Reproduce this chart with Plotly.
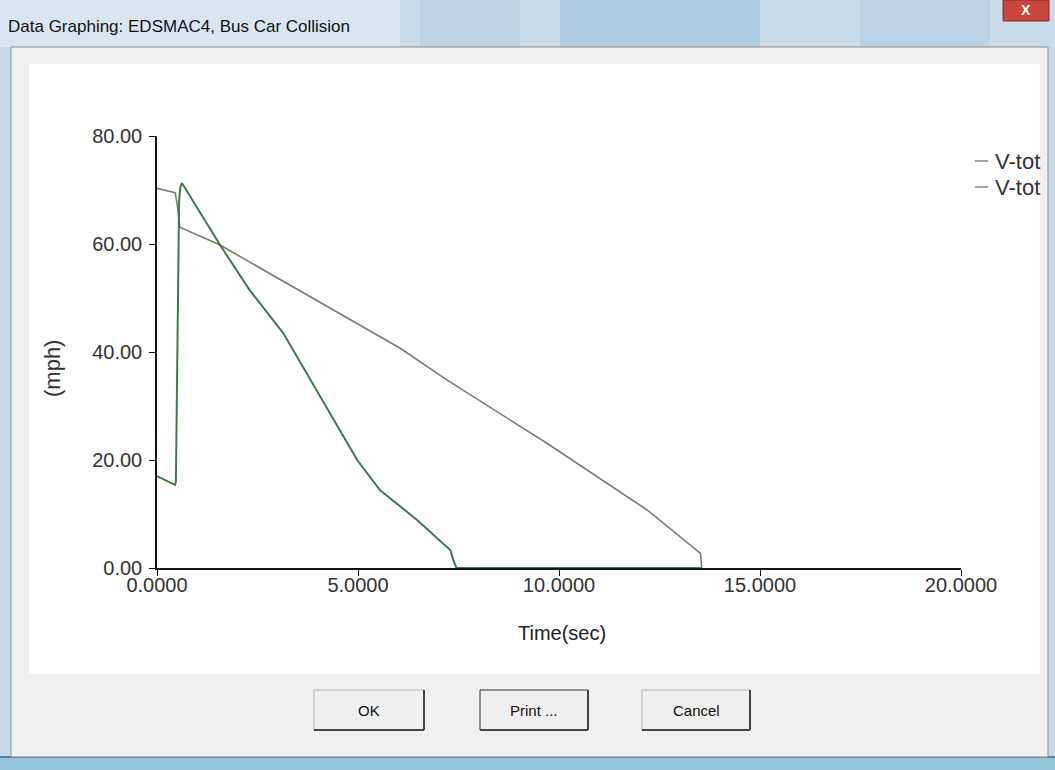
import plotly.graph_objects as go

# ---------------- data ----------------
series_names = ["V-tot", "V-tot"]

time_gray = [0.0, 0.45, 0.50, 0.55, 0.57, 1.57, 5.55, 6.05, 7.22, 9.70, 12.20, 13.52, 13.55]
vtot_gray = [70.3, 69.5, 67.5, 63.5, 63.1, 59.8, 42.8, 40.7, 34.8, 23.1, 10.7, 2.7, 0.0]

time_green = [0.0, 0.45, 0.47, 0.50, 0.55, 0.58, 0.62, 1.57, 2.30, 3.14, 3.64, 4.40, 4.98,
              5.55, 6.47, 7.30, 7.37, 7.45, 13.55]
vtot_green = [17.0, 15.4, 16.0, 40.0, 68.0, 70.5, 71.3, 59.8, 51.5, 43.5, 37.2, 27.4, 20.0,
              14.4, 8.9, 3.3, 1.5, 0.0, 0.0]

x_ticks = [0, 5, 10, 15, 20]
x_ticklabels = ["0.0000", "5.0000", "10.0000", "15.0000", "20.0000"]
y_ticks = [0, 20, 40, 60, 80]
y_ticklabels = ["0.00", "20.00", "40.00", "60.00", "80.00"]

window_title = "Data Graphing: EDSMAC4, Bus Car Collision"
button_labels = ["OK", "Print ...", "Cancel"]

# ---------------- layout geometry ----------------
W, H = 1055, 770
L, R, T, B = 157, 94, 136, 202
PW, PH = W - L - R, H - T - B


def fx(px):
    return (px - L) / PW


def fy(py):
    return (H - B - py) / PH


SANS = "Liberation Sans, Arial, sans-serif"

shapes = []
annotations = []


def rect(x0, y0, x1, y1, fill, line=None, lw=0):
    shapes.append(dict(type="rect", xref="paper", yref="paper", layer="below",
                       x0=fx(x0), x1=fx(x1), y0=fy(y1), y1=fy(y0),
                       fillcolor=fill,
                       line=dict(color=line or fill, width=lw)))


def hline(x0, x1, y, color, lw=1, layer="below"):
    shapes.append(dict(type="line", xref="paper", yref="paper", layer=layer,
                       x0=fx(x0), x1=fx(x1), y0=fy(y), y1=fy(y),
                       line=dict(color=color, width=lw)))


def vline(x, y0, y1, color, lw=1, layer="below"):
    shapes.append(dict(type="line", xref="paper", yref="paper", layer=layer,
                       x0=fx(x), x1=fx(x), y0=fy(y0), y1=fy(y1),
                       line=dict(color=color, width=lw)))


def text(x, y, s, size, color="#111", family=SANS, xanchor="center", textangle=0):
    annotations.append(dict(xref="paper", yref="paper", x=fx(x), y=fy(y), text=s,
                            showarrow=False, xanchor=xanchor, yanchor="middle",
                            textangle=textangle, borderpad=0,
                            font=dict(size=size, color=color, family=family)))


# window chrome: glass title bar & borders
rect(0, 0, W, 47, "#c9dcec")
rect(0, 0, 400, 47, "#d9e6f1")
rect(420, 0, 520, 47, "#bcd3e6")
rect(560, 0, 760, 47, "#b2cce2")
rect(860, 0, 990, 47, "#bad2e6")
rect(0, 47, 11, H, "#c6d9e9")
rect(1048, 47, W, H, "#c6d9e9")
rect(0, 757, W, H, "#93c6db")
hline(0, W, 757, "#5d7f92", 2)
# dialog body
rect(11, 47, 1048, 757, "#f0f0f0", "#8c8c8c", 1)
rect(29, 64, 1040, 674, "#ffffff")
# close button
rect(1003, 0, 1049, 21, "#c9473a", "#8a2a22", 1)
text(1026, 10, "<b>X</b>", 14, "#ffffff")
# title text
text(7, 27, window_title, 17, "#111111", SANS, xanchor="left")

# buttons
for (bx0, bx1), lab, focused in zip([(314, 424), (480, 588), (642, 750)], button_labels,
                                     [False, True, False]):
    rect(bx0, 690, bx1, 730, "#efefef", "#333333" if focused else "#b5b5b5", 1)
    hline(bx0, bx1, 730, "#444444", 2)
    vline(bx1, 690, 730, "#444444", 2)
    text((bx0 + bx1) / 2, 710, lab, 15, "#111111", SANS)

# axis titles
text(562, 633, "Time(sec)", 20, "#222222", SANS)
text(52, 369, "(mph)", 22, "#333333", SANS, textangle=-90)

# legend (manual)
for i, name in enumerate(series_names):
    yy = 161 + 26 * i
    hline(975, 988, yy, "#666666", 1.2, layer="above")
    text(994, yy, name, 22, "#333333", SANS, xanchor="left")

# ---------------- figure ----------------
fig = go.Figure()
fig.add_trace(go.Scatter(x=time_gray, y=vtot_gray, mode="lines", name=series_names[0],
                         line=dict(color="#7d7d6e", width=1.6), showlegend=False))
fig.add_trace(go.Scatter(x=time_green, y=vtot_green, mode="lines", name=series_names[1],
                         line=dict(color="#3f7a4c", width=2), showlegend=False))

axis_common = dict(showgrid=False, zeroline=False, showline=True, linecolor="#111111",
                   linewidth=1.5, ticks="outside", ticklen=6, tickcolor="#111111",
                   tickwidth=1.2, layer="below traces",
                   tickfont=dict(family=SANS, size=20, color="#333333"))

fig.update_layout(
    width=W, height=H,
    margin=dict(l=L, r=R, t=T, b=B, pad=0),
    paper_bgcolor="#f0f0f0",
    plot_bgcolor="rgba(0,0,0,0)",
    shapes=shapes,
    annotations=annotations,
    showlegend=False,
    xaxis=dict(range=[0, 20], tickmode="array", tickvals=x_ticks, ticktext=x_ticklabels,
               ticklabelstandoff=-8, **axis_common),
    yaxis=dict(range=[0, 80], tickmode="array", tickvals=y_ticks, ticktext=y_ticklabels,
               ticklabelstandoff=3, **axis_common),
)

fig.write_html("out.html", config={"displayModeBar": False},
               post_script="document.body.style.margin='0px';")
